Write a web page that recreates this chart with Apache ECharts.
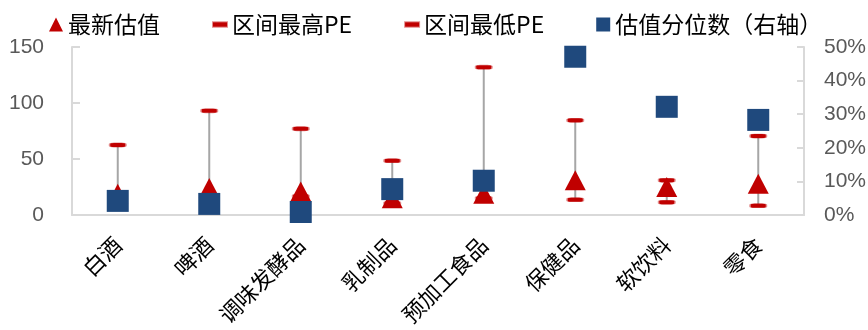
<!DOCTYPE html>
<html>
<head>
<meta charset="utf-8">
<script src="https://cdn.jsdelivr.net/npm/echarts@6/dist/echarts.min.js"></script>
<style>
  html, body { margin: 0; padding: 0; background: #fff; }
  #chart { width: 868px; height: 330px; }
</style>
</head>
<body>
<div id="chart"></div>
<script>
// 行业
const categories = ['白酒', '啤酒', '调味发酵品', '乳制品', '预加工食品', '保健品', '软饮料', '零食']
// PE (左轴)
const latestPE = [19, 24, 21, 15, 19, 31, 25, 28]
const highPE = [62.5, 93, 77, 48.5, 132, 84.5, 31, 70.5]
const lowPE = [15, 14, 16.7, 10.4, 14.9, 13.7, 11.3, 8.3]
// 估值分位数 % (右轴)
const percentile = [4.2, 3.3, 0.9, 7.7, 10.2, 47.1, 32.2, 28.3]
const leftTicks = [0, 50, 100, 150]
const rightTicks = [0, 10, 20, 30, 40, 50]

const chart = echarts.init(document.getElementById('chart'))

const axisGray = '#D9D9D9'
const labelGray = '#595959'
const numFont = 'Liberation Sans'
const cjkFont = 'Noto Sans CJK SC'

const option = {
  animation: false,
  textStyle: { fontFamily: cjkFont },
  legend: {
    left: 44,
    top: 8,
    itemWidth: 14,
    itemHeight: 14,
    itemGap: 52,
    textStyle: { fontSize: 23, color: '#000', fontFamily: cjkFont },
    data: [
      { name: '最新估值', icon: 'triangle' },
      { name: '区间最高PE', icon: 'path://M0,0h16v5h-16z' },
      { name: '区间最低PE', icon: 'path://M0,0h16v5h-16z' },
      { name: '估值分位数（右轴）', icon: 'rect' }
    ]
  },
  grid: {
    left: 72,
    right: 64,
    top: 47,
    bottom: 115,
    outerBoundsMode: 'none',
    containLabel: false
  },
  xAxis: {
    type: 'category',
    data: categories,
    axisLine: { lineStyle: { color: axisGray, width: 2 } },
    axisTick: { inside: true, length: 6, lineStyle: { color: axisGray, width: 2 } },
    axisLabel: {
      rotate: 45,
      margin: 26,
      fontSize: 22,
      color: '#000',
      fontFamily: cjkFont
    }
  },
  yAxis: [
    {
      type: 'value',
      min: leftTicks[0],
      max: leftTicks[leftTicks.length - 1],
      interval: 50,
      splitLine: { show: false },
      axisLine: { show: true, lineStyle: { color: axisGray, width: 2 } },
      axisTick: { show: true, inside: true, length: 8, lineStyle: { color: axisGray, width: 2 } },
      axisLabel: { fontSize: 21, color: labelGray, fontFamily: numFont, margin: 28 }
    },
    {
      type: 'value',
      min: rightTicks[0],
      max: rightTicks[rightTicks.length - 1],
      interval: 10,
      splitLine: { show: false },
      axisLine: { show: true, lineStyle: { color: axisGray, width: 2 } },
      axisTick: { show: true, inside: true, length: 7, lineStyle: { color: axisGray, width: 2 } },
      axisLabel: { fontSize: 21, color: labelGray, fontFamily: numFont, margin: 20, formatter: '{value}%' }
    }
  ],
  series: [
    {
      // 区间高低连线
      name: 'range',
      type: 'custom',
      data: categories.map((c, i) => [i, lowPE[i], highPE[i]]),
      encode: { x: 0, y: [1, 2] },
      renderItem: function (params, api) {
        const lo = api.coord([api.value(0), api.value(1)])
        const hi = api.coord([api.value(0), api.value(2)])
        return {
          type: 'line',
          shape: { x1: lo[0], y1: lo[1], x2: hi[0], y2: hi[1] },
          style: { stroke: '#A6A6A6', lineWidth: 2 }
        }
      },
      silent: true
    },
    {
      name: '最新估值',
      type: 'scatter',
      data: latestPE,
      symbol: 'triangle',
      symbolSize: [21, 20],
      itemStyle: { color: '#C00000', opacity: 1 }
    },
    {
      name: '区间最高PE',
      type: 'scatter',
      data: highPE,
      symbol: 'roundRect',
      symbolSize: [15, 4],
      itemStyle: { color: '#C00000', borderColor: 'rgba(192,0,0,0.45)', borderWidth: 1.5, opacity: 1 }
    },
    {
      name: '区间最低PE',
      type: 'scatter',
      data: lowPE,
      symbol: 'roundRect',
      symbolSize: [15, 4],
      itemStyle: { color: '#C00000', borderColor: 'rgba(192,0,0,0.45)', borderWidth: 1.5, opacity: 1 }
    },
    {
      name: '估值分位数（右轴）',
      type: 'scatter',
      yAxisIndex: 1,
      data: percentile,
      symbol: 'rect',
      symbolSize: 22,
      itemStyle: { color: '#1F497D', opacity: 1 }
    }
  ]
}

chart.setOption(option)
</script>
</body>
</html>
